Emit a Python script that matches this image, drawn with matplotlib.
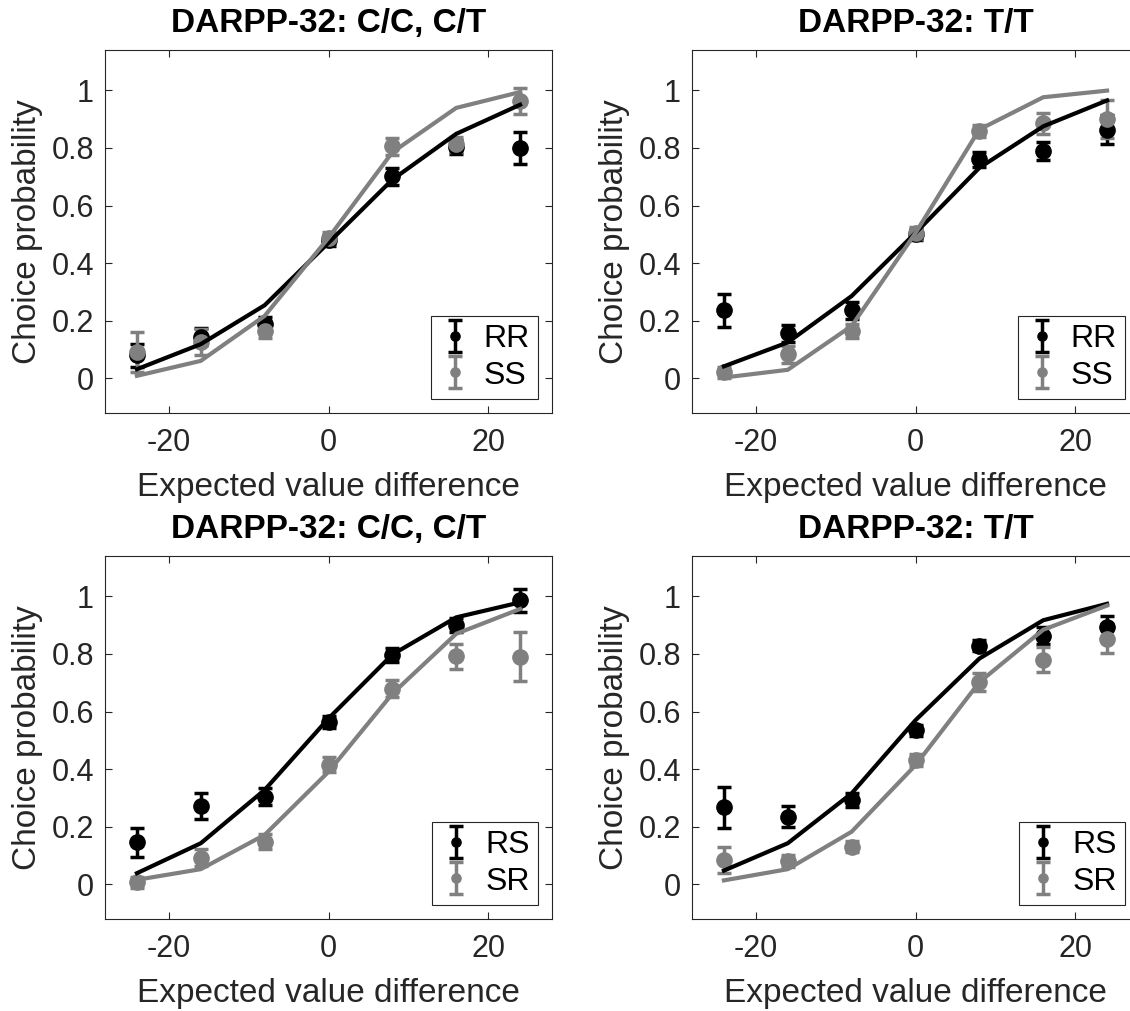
import numpy as np
import matplotlib
matplotlib.use("Agg")
import matplotlib.pyplot as plt

plt.rcParams["font.family"] = ["Liberation Sans", "DejaVu Sans"]
plt.rcParams["axes.unicode_minus"] = False

# differenza di valore atteso (asse x comune)
ev = [-24, -16, -8, 0, 8, 16, 24]

titoli = ["DARPP-32: C/C, C/T", "DARPP-32: T/T",
          "DARPP-32: C/C, C/T", "DARPP-32: T/T"]
etichette = [("RR", "SS"), ("RR", "SS"), ("RS", "SR"), ("RS", "SR")]

# --- pannello 1: C/C, C/T, RR vs SS ---
p1_nero = [0.08, 0.145, 0.188, 0.479, 0.702, 0.804, 0.80]
p1_nero_err = [0.04, 0.03, 0.025, 0.02, 0.03, 0.025, 0.056]
p1_nero_fit = [0.032, 0.119, 0.254, 0.471, 0.69, 0.849, 0.95]
p1_grigio = [0.092, 0.128, 0.165, 0.488, 0.806, 0.812, 0.962]
p1_grigio_err = [0.07, 0.045, 0.025, 0.02, 0.03, 0.025, 0.045]
p1_grigio_fit = [0.009, 0.061, 0.217, 0.488, 0.785, 0.939, 0.994]

# --- pannello 2: T/T, RR vs SS ---
p2_nero = [0.237, 0.156, 0.237, 0.50, 0.76, 0.789, 0.864]
p2_nero_err = [0.057, 0.03, 0.03, 0.02, 0.025, 0.03, 0.05]
p2_nero_fit = [0.042, 0.125, 0.286, 0.505, 0.731, 0.875, 0.965]
p2_grigio = [0.021, 0.084, 0.165, 0.505, 0.858, 0.885, 0.901]
p2_grigio_err = [0.02, 0.03, 0.025, 0.02, 0.02, 0.035, 0.065]
p2_grigio_fit = [0.003, 0.03, 0.182, 0.505, 0.864, 0.976, 0.999]

# --- pannello 3: C/C, C/T, RS vs SR ---
p3_nero = [0.146, 0.273, 0.305, 0.564, 0.797, 0.901, 0.987]
p3_nero_err = [0.05, 0.046, 0.03, 0.02, 0.025, 0.025, 0.04]
p3_nero_fit = [0.039, 0.143, 0.328, 0.576, 0.798, 0.927, 0.979]
p3_grigio = [0.007, 0.093, 0.149, 0.416, 0.679, 0.792, 0.791]
p3_grigio_err = [0.02, 0.03, 0.025, 0.025, 0.03, 0.044, 0.085]
p3_grigio_fit = [0.016, 0.053, 0.172, 0.391, 0.662, 0.87, 0.956]

# --- pannello 4: T/T, RS vs SR ---
p4_nero = [0.268, 0.235, 0.293, 0.535, 0.829, 0.864, 0.893]
p4_nero_err = [0.071, 0.036, 0.025, 0.02, 0.02, 0.03, 0.04]
p4_nero_fit = [0.048, 0.143, 0.316, 0.57, 0.784, 0.917, 0.974]
p4_grigio = [0.085, 0.082, 0.131, 0.431, 0.703, 0.78, 0.853]
p4_grigio_err = [0.045, 0.02, 0.02, 0.02, 0.03, 0.043, 0.05]
p4_grigio_fit = [0.014, 0.053, 0.183, 0.414, 0.702, 0.884, 0.968]

NERO = "#000000"
GRIGIO = "#808080"
SCURO = "#262626"


def pannello(ax, titolo, nomi, nero, nero_err, nero_fit,
             grigio, grigio_err, grigio_fit):
    h1 = ax.errorbar(ev, nero, yerr=nero_err, fmt="o", color=NERO,
                     ms=11, elinewidth=2.5, capsize=5, capthick=2.5,
                     label=nomi[0], zorder=3)
    h2 = ax.errorbar(ev, grigio, yerr=grigio_err, fmt="o", color=GRIGIO,
                     ms=11, elinewidth=2.5, capsize=5, capthick=2.5,
                     label=nomi[1], zorder=3)
    ax.plot(ev, nero_fit, color=NERO, lw=3, zorder=4)
    ax.plot(ev, grigio_fit, color=GRIGIO, lw=3, zorder=4)

    ax.set_xlim(-28, 28)
    ax.set_ylim(-0.12, 1.14)
    ax.set_xticks([-20, 0, 20])
    ax.set_yticks([0, 0.2, 0.4, 0.6, 0.8, 1])
    ax.set_yticklabels(["0", "0.2", "0.4", "0.6", "0.8", "1"])
    ax.tick_params(direction="in", top=True, right=True, length=5,
                   width=0.8, color=SCURO, labelcolor=SCURO,
                   labelsize=22)
    ax.tick_params(axis="x", pad=11)
    ax.tick_params(axis="y", pad=8)
    for s in ax.spines.values():
        s.set_color(SCURO)
        s.set_linewidth(0.8)
    ax.set_xlabel("Expected value difference", fontsize=24, color=SCURO,
                  labelpad=10)
    ax.set_ylabel("Choice probability", fontsize=24, color=SCURO,
                  labelpad=6)
    ax.set_title(titolo, fontsize=24, fontweight="bold", pad=13)

    leg = ax.legend(handles=[h1, h2], loc="lower right", fontsize=23,
                    markerscale=0.6, handlelength=1.0, handletextpad=0.4,
                    borderpad=0.25, labelspacing=0.2, borderaxespad=0.45,
                    fancybox=False, framealpha=1, edgecolor=SCURO)
    leg.get_frame().set_linewidth(0.8)


fig = plt.figure(figsize=(11.3, 10.11), dpi=100)
W, H = 1130, 1011
riquadri = [(105, 50), (692, 50), (105, 556), (692, 556)]
dati = [
    (p1_nero, p1_nero_err, p1_nero_fit, p1_grigio, p1_grigio_err, p1_grigio_fit),
    (p2_nero, p2_nero_err, p2_nero_fit, p2_grigio, p2_grigio_err, p2_grigio_fit),
    (p3_nero, p3_nero_err, p3_nero_fit, p3_grigio, p3_grigio_err, p3_grigio_fit),
    (p4_nero, p4_nero_err, p4_nero_fit, p4_grigio, p4_grigio_err, p4_grigio_fit),
]
for i, (x0, y0) in enumerate(riquadri):
    ax = fig.add_axes([x0 / W, 1 - (y0 + 363) / H, 447 / W, 363 / H])
    pannello(ax, titoli[i], etichette[i], *dati[i])

fig.savefig("out.png", dpi=100)
